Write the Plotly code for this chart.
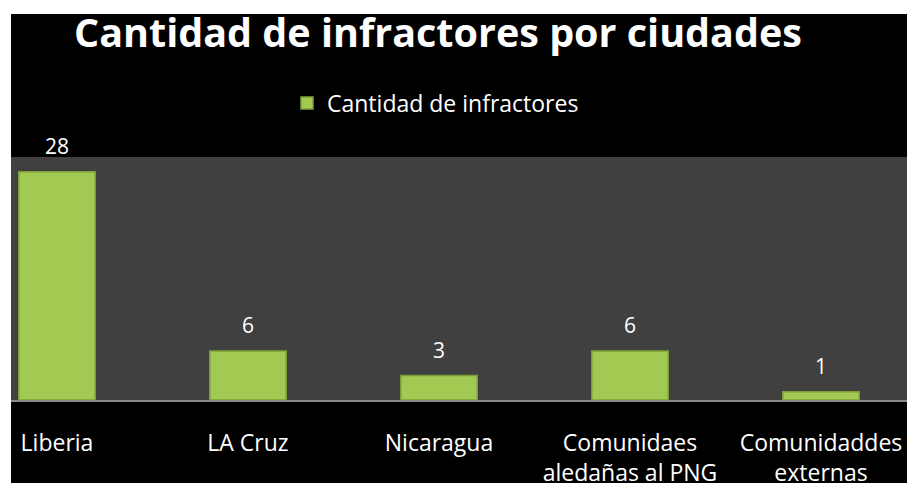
import plotly.graph_objects as go

categories = ["Liberia", "LA Cruz", "Nicaragua", "Comunidaes<br>aledañas al PNG", "Comunidaddes<br>externas"]
values = [28, 6, 3, 6, 1]
series_name = "Cantidad de infractores"
title_text = "Cantidad de infractores por ciudades"

W, H = 907, 483
ml, mr, mt, mb = 11, 0, 157, 83
pw, ph = W - ml - mr, H - mt - mb

FONT = "Open Sans"

fig = go.Figure()
fig.add_trace(go.Bar(
    x=list(range(len(categories))), y=values, name=series_name,
    width=0.40,
    marker=dict(color="#a2c952", line=dict(color="#7f9f38", width=1.5)),
    showlegend=True,
))

annotations = []
for i, v in enumerate(values):
    annotations.append(dict(x=i, y=v, xref="x", yref="y", text=str(v), showarrow=False,
                            yanchor="middle", yshift=26,
                            font=dict(family=FONT, size=21, color="white")))

shapes = [
    # white margins at left and top
    dict(type="rect", xref="paper", yref="paper", x0=-(ml + 2) / pw, x1=0, y0=-(mb + 2) / ph, y1=1 + (mt + 2) / ph,
         fillcolor="white", line=dict(width=0), layer="above"),
    dict(type="rect", xref="paper", yref="paper", x0=-(ml + 2) / pw, x1=1.01, y0=1 + (mt - 14) / ph, y1=1 + (mt + 2) / ph,
         fillcolor="white", line=dict(width=0), layer="above"),
]

fig.update_layout(
    width=W, height=H,
    margin=dict(l=ml, r=mr, t=mt, b=mb, pad=0, autoexpand=False),
    paper_bgcolor="black", plot_bgcolor="#404040",
    title=dict(text="<b>" + title_text + "</b>", x=(438 - ml) / pw, xref="paper", xanchor="center",
               y=1 - 33 / H, yref="container", yanchor="middle",
               font=dict(family=FONT, size=39.5, color="white")),
    legend=dict(orientation="h", x=(287 - ml) / pw, xanchor="left", y=(400 - 103) / ph, yanchor="middle",
                font=dict(family=FONT, size=23, color="white"), bgcolor="rgba(0,0,0,0)"),
    xaxis=dict(range=[(11 - 57) / 191, (907 - 57) / 191], tickmode="array",
               tickvals=list(range(len(categories))), ticktext=categories,
               showgrid=False, zeroline=False, showline=True, linecolor="#8a8a8a", linewidth=2,
               ticks="", ticklabelstandoff=21, automargin=False,
               tickfont=dict(family=FONT, size=23, color="white")),
    yaxis=dict(range=[0, 29.8], visible=False, showgrid=False, zeroline=False, automargin=False),
    annotations=annotations,
    shapes=shapes,
    bargap=0.6,
)

fig.write_html("out.html", config={"displayModeBar": False},
               post_script="document.body.style.margin='0';document.body.style.overflow='hidden';")
